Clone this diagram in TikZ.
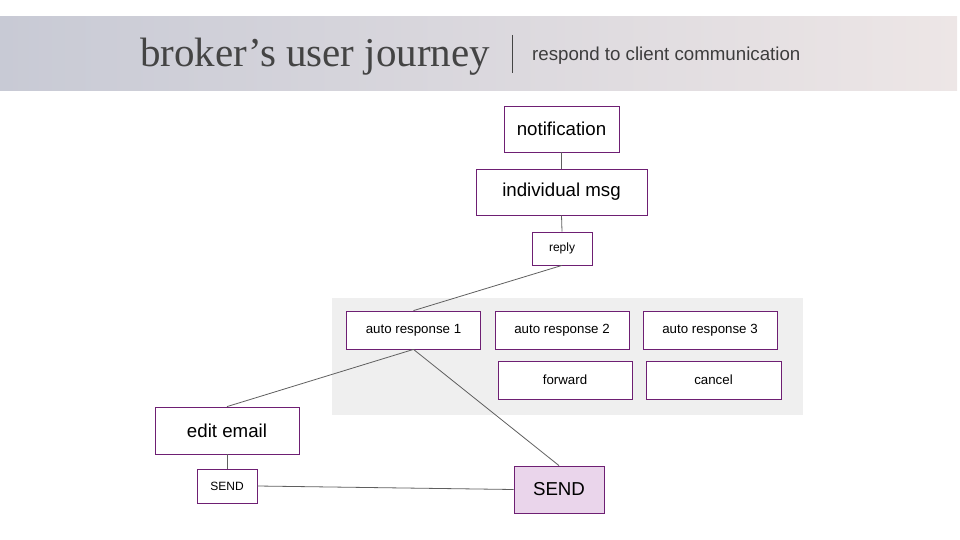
\documentclass[tikz,border=0pt]{standalone}
\usepackage{fontspec}
\setmainfont{Liberation Sans}
\newfontfamily\titlefont{Liberation Serif}
\usepackage{xcolor}
\usepackage{tikz}
\definecolor{jrnpurple}{HTML}{6E1F73}
\definecolor{jrnline}{HTML}{5F5F5F}
\definecolor{jrnpanel}{HTML}{EFEFEF}
\definecolor{jrnsend}{HTML}{EAD5EB}
\definecolor{jrnleft}{HTML}{C8CAD5}
\definecolor{jrnmid}{HTML}{DAD2D8}
\definecolor{jrnright}{HTML}{EDE6E6}
\definecolor{jrntext}{HTML}{444444}

\tikzset{
  box/.style={draw=jrnpurple,line width=0.8pt,fill=white,inner sep=0pt,
    align=center,text=black},
  bigtxt/.style={font=\fontsize{18.7}{22}\selectfont},
  smalltxt/.style={font=\fontsize{13.3}{16}\selectfont},
  tinytxt/.style={font=\fontsize{12}{14}\selectfont},
  conn/.style={draw=jrnline,line width=0.8pt}
}

\begin{document}
\begin{tikzpicture}[x=1pt,y=-1pt]
  \useasboundingbox (0,0) rectangle (960,540);
  % header band
  \shade[left color=jrnleft,middle color=jrnmid,right color=jrnright] (0,17) rectangle (957,91);
  \node[anchor=base west,text=jrntext,inner sep=0pt,font=\titlefont\fontsize{41}{45}\selectfont] (title) at (140,67) {broker’s user journey};
  \draw[jrntext,line width=0.8pt] (512,35) -- (512,73);
  \node[anchor=base west,text=jrntext!90!black,inner sep=0pt,font=\fontsize{18.7}{22}\selectfont] (subtitle) at (532,61) {respond to client communication};

  % options panel
  \fill[jrnpanel] (332,298) rectangle (803,415);

  % steps
  \node[box,bigtxt,minimum width=115pt,minimum height=46pt] (notif) at (561.5,129) {notification};
  \node[box,bigtxt,minimum width=171pt,minimum height=46pt] (indmsg) at (561.5,192) {individual msg};
  \node[box,tinytxt,minimum width=60pt,minimum height=33pt] (reply) at (562,248.5) {reply};
  \node[box,smalltxt,minimum width=134pt,minimum height=38pt] (autoa) at (413.5,330) {auto response 1};
  \node[box,smalltxt,minimum width=134pt,minimum height=38pt] (autob) at (562,330) {auto response 2};
  \node[box,smalltxt,minimum width=134pt,minimum height=38pt] (autoc) at (710,330) {auto response 3};
  \node[box,smalltxt,minimum width=134pt,minimum height=38pt] (fwd) at (565,380) {forward};
  \node[box,smalltxt,minimum width=135pt,minimum height=38pt] (cancel) at (713.5,380) {cancel};
  \node[box,bigtxt,minimum width=144pt,minimum height=47pt] (edit) at (227,430.5) {edit email};
  \node[box,tinytxt,minimum width=60pt,minimum height=34pt] (sendsm) at (227,486) {SEND};
  \node[box,bigtxt,fill=jrnsend,minimum width=90pt,minimum height=47pt] (sendbig) at (559,489.5) {SEND};

  % connectors
  \draw[conn] (notif.south) -- (indmsg.north);
  \draw[conn] (indmsg.south) -- (reply.north);
  \draw[conn] (reply.south) -- (autoa.north);
  \draw[conn] (autoa.south) -- (edit.north);
  \draw[conn] (autoa.south) -- (sendbig.north);
  \draw[conn] (edit.south) -- (sendsm.north);
  \draw[conn] (sendsm.east) -- (sendbig.west);
\end{tikzpicture}
\end{document}
